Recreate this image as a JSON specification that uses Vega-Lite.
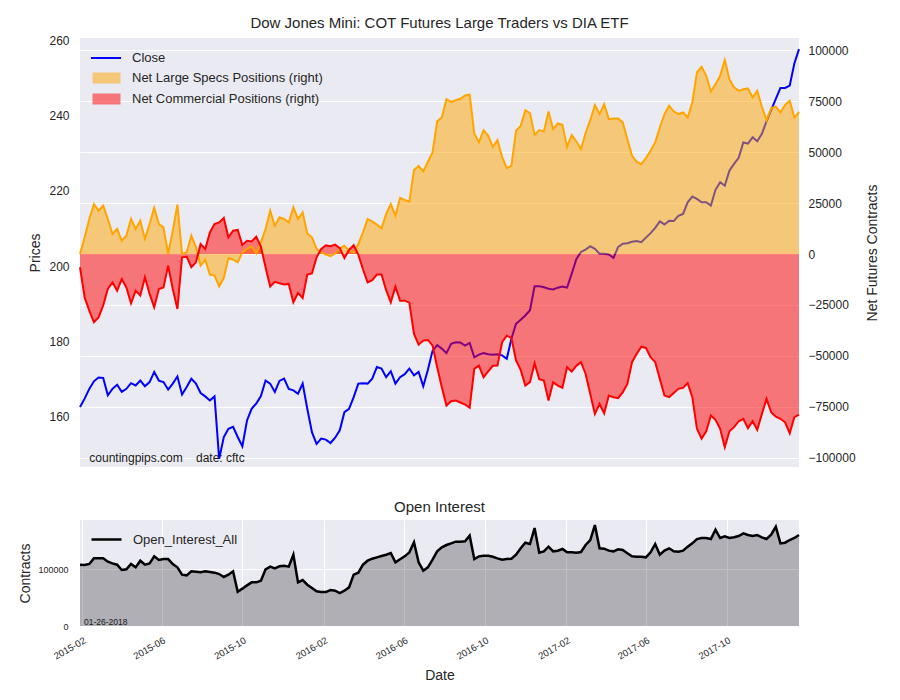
{
"$schema": "https://vega.github.io/schema/vega-lite/v6.json",
"background": "white",
"padding": {"left": 18, "top": 16, "right": 5, "bottom": 5},
"datasets": {"cot": [
{"d":"2015-01-29","c":162.6,"s":0,"m":-6500,"o":107600},
{"d":"2015-02-05","c":164.8,"s":8200,"m":-21300,"o":107000},
{"d":"2015-02-12","c":167.4,"s":17200,"m":-27800,"o":108800},
{"d":"2015-02-19","c":169.4,"s":24500,"m":-33500,"o":118700},
{"d":"2015-02-26","c":170.4,"s":21300,"m":-31100,"o":118700},
{"d":"2015-03-05","c":170.3,"s":23700,"m":-25300,"o":118700},
{"d":"2015-03-12","c":165.7,"s":17200,"m":-17200,"o":112900},
{"d":"2015-03-19","c":167.4,"s":9800,"m":-13900,"o":109900},
{"d":"2015-03-26","c":168.5,"s":12300,"m":-18000,"o":107600},
{"d":"2015-04-02","c":166.6,"s":6500,"m":-12300,"o":98200},
{"d":"2015-04-09","c":167.4,"s":9000,"m":-16400,"o":99400},
{"d":"2015-04-16","c":168.9,"s":17200,"m":-24200,"o":108800},
{"d":"2015-04-23","c":168.3,"s":12300,"m":-18000,"o":102900},
{"d":"2015-04-30","c":169.6,"s":16400,"m":-20400,"o":114600},
{"d":"2015-05-07","c":168.1,"s":7400,"m":-11400,"o":107600},
{"d":"2015-05-14","c":169.2,"s":14700,"m":-19600,"o":109900},
{"d":"2015-05-21","c":171.9,"s":22600,"m":-26200,"o":122200},
{"d":"2015-05-28","c":169.6,"s":14700,"m":-17200,"o":115800},
{"d":"2015-06-04","c":169.2,"s":13100,"m":-16400,"o":117500},
{"d":"2015-06-11","c":167.2,"s":0,"m":-5700,"o":117500},
{"d":"2015-06-18","c":168.8,"s":11400,"m":-17200,"o":108800},
{"d":"2015-06-25","c":170.7,"s":24200,"m":-27000,"o":102900},
{"d":"2015-07-02","c":165.9,"s":0,"m":-1600,"o":90100},
{"d":"2015-07-09","c":167.9,"s":800,"m":-1300,"o":88900},
{"d":"2015-07-16","c":170.1,"s":9000,"m":-6500,"o":95900},
{"d":"2015-07-23","c":168.8,"s":3300,"m":-4100,"o":95300},
{"d":"2015-07-30","c":166.3,"s":-5700,"m":4900,"o":94200},
{"d":"2015-08-06","c":165.4,"s":-2900,"m":2500,"o":95900},
{"d":"2015-08-13","c":164.3,"s":-10100,"m":10600,"o":94700},
{"d":"2015-08-20","c":165.4,"s":-10600,"m":14700,"o":93600},
{"d":"2015-08-27","c":148.8,"s":-15900,"m":15500,"o":91200},
{"d":"2015-09-03","c":154.6,"s":-11800,"m":17700,"o":86000},
{"d":"2015-09-10","c":156.8,"s":-2000,"m":8200,"o":90100},
{"d":"2015-09-17","c":157.3,"s":-2800,"m":11400,"o":95900},
{"d":"2015-09-24","c":154.6,"s":-4100,"m":11800,"o":60200},
{"d":"2015-10-01","c":152.1,"s":800,"m":4400,"o":65500},
{"d":"2015-10-08","c":159.0,"s":2500,"m":6500,"o":71300},
{"d":"2015-10-15","c":162.1,"s":3800,"m":6200,"o":76600},
{"d":"2015-10-22","c":163.5,"s":300,"m":8500,"o":76600},
{"d":"2015-10-29","c":165.5,"s":5700,"m":3600,"o":79500},
{"d":"2015-11-05","c":169.6,"s":12300,"m":-6500,"o":99400},
{"d":"2015-11-12","c":168.8,"s":21300,"m":-16000,"o":104100},
{"d":"2015-11-19","c":166.6,"s":13900,"m":-13700,"o":101200},
{"d":"2015-11-26","c":169.5,"s":18000,"m":-14400,"o":104700},
{"d":"2015-12-03","c":170.1,"s":17200,"m":-15000,"o":105800},
{"d":"2015-12-10","c":167.4,"s":15500,"m":-14700,"o":104100},
{"d":"2015-12-17","c":167.0,"s":22900,"m":-23700,"o":125100},
{"d":"2015-12-24","c":166.1,"s":17200,"m":-19100,"o":76600},
{"d":"2015-12-31","c":168.8,"s":20400,"m":-21600,"o":80700},
{"d":"2016-01-07","c":162.1,"s":10100,"m":-10100,"o":72500},
{"d":"2016-01-14","c":155.9,"s":8200,"m":-9500,"o":66700},
{"d":"2016-01-21","c":152.8,"s":2500,"m":-1600,"o":60800},
{"d":"2016-01-28","c":154.2,"s":800,"m":2500,"o":59600},
{"d":"2016-02-04","c":153.9,"s":-300,"m":4300,"o":59600},
{"d":"2016-02-11","c":153.0,"s":-1000,"m":3800,"o":63200},
{"d":"2016-02-18","c":154.4,"s":300,"m":4600,"o":62000},
{"d":"2016-02-25","c":156.4,"s":2800,"m":2900,"o":57900},
{"d":"2016-03-03","c":161.2,"s":4100,"m":-2000,"o":62000},
{"d":"2016-03-10","c":162.1,"s":1600,"m":2000,"o":67800},
{"d":"2016-03-17","c":165.2,"s":800,"m":4300,"o":90100},
{"d":"2016-03-24","c":168.8,"s":4900,"m":-300,"o":93600},
{"d":"2016-03-31","c":168.9,"s":10600,"m":-7500,"o":107600},
{"d":"2016-04-07","c":168.8,"s":17200,"m":-13900,"o":114600},
{"d":"2016-04-14","c":170.1,"s":16000,"m":-12800,"o":118100},
{"d":"2016-04-21","c":173.2,"s":14400,"m":-10100,"o":120500},
{"d":"2016-04-28","c":172.8,"s":12600,"m":-10100,"o":122800},
{"d":"2016-05-05","c":170.5,"s":19600,"m":-17700,"o":125100},
{"d":"2016-05-12","c":172.1,"s":24500,"m":-23700,"o":128100},
{"d":"2016-05-19","c":168.8,"s":18800,"m":-16000,"o":111700},
{"d":"2016-05-26","c":170.5,"s":27500,"m":-22900,"o":117000},
{"d":"2016-06-02","c":171.3,"s":26500,"m":-22900,"o":122200},
{"d":"2016-06-09","c":172.8,"s":25700,"m":-23900,"o":129200},
{"d":"2016-06-16","c":171.0,"s":41200,"m":-39200,"o":146800},
{"d":"2016-06-23","c":171.9,"s":43200,"m":-44500,"o":111700},
{"d":"2016-06-30","c":168.1,"s":40500,"m":-42500,"o":97100},
{"d":"2016-07-07","c":172.5,"s":45300,"m":-42200,"o":102900},
{"d":"2016-07-14","c":177.5,"s":49900,"m":-44900,"o":116400},
{"d":"2016-07-21","c":179.0,"s":65100,"m":-55600,"o":131000},
{"d":"2016-07-28","c":178.1,"s":67000,"m":-65400,"o":138000},
{"d":"2016-08-04","c":176.9,"s":76000,"m":-74400,"o":142100},
{"d":"2016-08-11","c":179.4,"s":74700,"m":-72300,"o":145000},
{"d":"2016-08-18","c":179.8,"s":75500,"m":-71900,"o":148000},
{"d":"2016-08-25","c":179.7,"s":76200,"m":-72900,"o":148000},
{"d":"2016-09-01","c":178.9,"s":77800,"m":-73900,"o":148500},
{"d":"2016-09-08","c":179.6,"s":78200,"m":-75500,"o":158500},
{"d":"2016-09-15","c":175.8,"s":59200,"m":-56400,"o":117500},
{"d":"2016-09-22","c":176.5,"s":54800,"m":-54800,"o":122200},
{"d":"2016-09-29","c":176.9,"s":60800,"m":-60500,"o":123400},
{"d":"2016-10-06","c":176.6,"s":58000,"m":-57600,"o":123400},
{"d":"2016-10-13","c":176.5,"s":52600,"m":-54900,"o":121600},
{"d":"2016-10-20","c":176.6,"s":55900,"m":-54800,"o":118700},
{"d":"2016-10-27","c":176.3,"s":47700,"m":-43300,"o":116400},
{"d":"2016-11-03","c":175.4,"s":42200,"m":-40100,"o":117500},
{"d":"2016-11-10","c":180.7,"s":43300,"m":-41200,"o":118100},
{"d":"2016-11-17","c":184.7,"s":60500,"m":-52300,"o":125100},
{"d":"2016-11-24","c":185.8,"s":62900,"m":-56900,"o":136300},
{"d":"2016-12-01","c":186.9,"s":70600,"m":-64600,"o":146200},
{"d":"2016-12-08","c":188.3,"s":69200,"m":-62900,"o":143900},
{"d":"2016-12-15","c":194.7,"s":58500,"m":-53600,"o":171900},
{"d":"2016-12-22","c":194.7,"s":60800,"m":-61500,"o":128700},
{"d":"2016-12-29","c":194.4,"s":60200,"m":-62100,"o":131000},
{"d":"2017-01-05","c":194.0,"s":70000,"m":-71900,"o":139200},
{"d":"2017-01-12","c":193.8,"s":61300,"m":-62900,"o":131000},
{"d":"2017-01-19","c":194.3,"s":64100,"m":-64600,"o":132200},
{"d":"2017-01-26","c":194.6,"s":63400,"m":-65700,"o":135100},
{"d":"2017-02-02","c":194.3,"s":52600,"m":-55600,"o":129200},
{"d":"2017-02-09","c":198.0,"s":58400,"m":-57700,"o":129200},
{"d":"2017-02-16","c":201.9,"s":55300,"m":-54900,"o":128700},
{"d":"2017-02-23","c":203.8,"s":51500,"m":-53100,"o":129800},
{"d":"2017-03-02","c":204.4,"s":59400,"m":-58900,"o":142100},
{"d":"2017-03-09","c":205.3,"s":65700,"m":-68700,"o":150900},
{"d":"2017-03-16","c":204.6,"s":73100,"m":-78500,"o":177200},
{"d":"2017-03-23","c":203.3,"s":68700,"m":-73600,"o":136300},
{"d":"2017-03-30","c":203.3,"s":73600,"m":-78200,"o":135700},
{"d":"2017-04-06","c":203.1,"s":66200,"m":-69500,"o":132200},
{"d":"2017-04-13","c":202.2,"s":66500,"m":-70300,"o":131000},
{"d":"2017-04-20","c":205.1,"s":66500,"m":-70800,"o":134500},
{"d":"2017-04-27","c":206.0,"s":64600,"m":-67900,"o":133300},
{"d":"2017-05-04","c":206.1,"s":56400,"m":-63800,"o":127500},
{"d":"2017-05-11","c":206.5,"s":48200,"m":-53100,"o":122200},
{"d":"2017-05-18","c":206.7,"s":45300,"m":-49100,"o":121600},
{"d":"2017-05-25","c":206.4,"s":44100,"m":-45500,"o":121600},
{"d":"2017-06-01","c":207.6,"s":47100,"m":-46100,"o":120500},
{"d":"2017-06-08","c":208.8,"s":50700,"m":-50700,"o":129200},
{"d":"2017-06-15","c":210.2,"s":54800,"m":-53100,"o":143900},
{"d":"2017-06-22","c":211.9,"s":62100,"m":-61300,"o":125100},
{"d":"2017-06-29","c":211.1,"s":68700,"m":-69500,"o":132200},
{"d":"2017-07-06","c":212.1,"s":72800,"m":-70300,"o":136300},
{"d":"2017-07-13","c":212.0,"s":70000,"m":-68200,"o":131000},
{"d":"2017-07-20","c":213.4,"s":68700,"m":-66200,"o":130400},
{"d":"2017-07-27","c":213.9,"s":69500,"m":-65700,"o":132200},
{"d":"2017-08-03","c":217.0,"s":67000,"m":-63400,"o":139200},
{"d":"2017-08-10","c":218.5,"s":74400,"m":-70300,"o":145000},
{"d":"2017-08-17","c":217.9,"s":89100,"m":-85800,"o":152600},
{"d":"2017-08-24","c":217.0,"s":91900,"m":-90700,"o":154400},
{"d":"2017-08-31","c":217.0,"s":87500,"m":-87000,"o":154400},
{"d":"2017-09-07","c":216.1,"s":79800,"m":-79300,"o":152600},
{"d":"2017-09-14","c":220.3,"s":83400,"m":-81400,"o":169000},
{"d":"2017-09-21","c":222.3,"s":87500,"m":-85800,"o":154400},
{"d":"2017-09-28","c":221.4,"s":95200,"m":-94800,"o":157300},
{"d":"2017-10-05","c":225.4,"s":85800,"m":-87000,"o":154400},
{"d":"2017-10-12","c":227.2,"s":81800,"m":-85000,"o":155600},
{"d":"2017-10-19","c":228.8,"s":80100,"m":-82100,"o":157900},
{"d":"2017-10-26","c":232.9,"s":80900,"m":-80900,"o":162600},
{"d":"2017-11-02","c":232.6,"s":81300,"m":-85500,"o":159600},
{"d":"2017-11-09","c":234.3,"s":76800,"m":-82100,"o":157900},
{"d":"2017-11-16","c":233.2,"s":80100,"m":-86300,"o":159600},
{"d":"2017-11-23","c":235.2,"s":72300,"m":-78500,"o":155600},
{"d":"2017-11-30","c":238.5,"s":65700,"m":-71100,"o":152600},
{"d":"2017-12-07","c":241.5,"s":71600,"m":-77700,"o":160200},
{"d":"2017-12-14","c":244.5,"s":72300,"m":-79800,"o":174300},
{"d":"2017-12-21","c":247.4,"s":69500,"m":-80900,"o":145000},
{"d":"2017-12-28","c":247.4,"s":73200,"m":-82600,"o":146200},
{"d":"2018-01-04","c":248.0,"s":75200,"m":-88000,"o":150900},
{"d":"2018-01-11","c":253.9,"s":67000,"m":-80100,"o":154400},
{"d":"2018-01-18","c":257.7,"s":69800,"m":-78800,"o":159600}
]},
"data": {"name": "cot"},
"spacing": 33,
"resolve": {"scale": {"stroke": "independent", "fill": "independent", "x": "independent", "y": "independent"}, "legend": {"stroke": "independent", "fill": "independent"}},
"vconcat": [
{
"width": 719, "height": 429,
"title": {"text": "Dow Jones Mini: COT Futures Large Traders vs DIA ETF", "fontSize": 15, "offset": 3, "anchor": "middle", "frame": "group"},
"layer": [
{
"layer": [
{"mark": {"type": "line", "strokeWidth": 2},
 "encoding": {
  "x": {"field": "d", "type": "temporal", "scale": {"type": "utc", "domain": [{"year": 2015, "month": 1, "date": 29, "utc": true}, {"year": 2018, "month": 1, "date": 18, "utc": true}]}, "axis": null},
  "y": {"field": "c", "type": "quantitative", "scale": {"domain": [146.63, 260.66], "nice": false, "zero": false},
        "axis": {"orient": "left", "values": [160, 180, 200, 220, 240, 260], "grid": false, "labelFontSize": 12, "labelPadding": 11, "title": "Prices", "titleFontSize": 14, "titlePadding": 6}},
  "stroke": {"datum": "Close", "type": "nominal",
    "scale": {"domain": ["Close"], "range": ["#0000ff"]},
    "legend": {"orient": "none", "legendX": 10, "legendY": 4, "title": null, "symbolType": "stroke", "symbolSize": 900, "symbolStrokeWidth": 2, "labelOffset": 10, "labelFontSize": 13, "labelLimit": 400, "padding": 0, "labelColor": "#262626"}}
 }},
{"data": {"values": [{"label": "countingpips.com\u00a0\u00a0\u00a0\u00a0date: cftc"}]},
 "mark": {"type": "text", "align": "left", "baseline": "alphabetic", "fontSize": 12, "color": "#1a1a1a"},
 "encoding": {
  "x": {"datum": {"year": 2015, "month": 2, "date": 12, "utc": true}, "type": "temporal", "axis": null},
  "y": {"datum": 148.0, "type": "quantitative",
        "axis": {"orient": "left", "values": [160, 180, 200, 220, 240, 260], "grid": false, "labelFontSize": 12, "labelPadding": 11, "title": "Prices", "titleFontSize": 14, "titlePadding": 6}},
  "text": {"field": "label"}
 }}
]
},
{
"layer": [
{"mark": {"type": "area", "opacity": 0.5},
 "encoding": {
  "x": {"field": "d", "type": "temporal", "axis": null},
  "y": {"field": "s", "type": "quantitative", "scale": {"domain": [-104560, 106040], "nice": false, "zero": false},
        "axis": {"orient": "right", "values": [-100000, -75000, -50000, -25000, 0, 25000, 50000, 75000, 100000], "format": "d", "grid": true, "labelFontSize": 12, "labelPadding": 9, "title": "Net Futures Contracts", "titleFontSize": 14, "titleAngle": 270, "titleBaseline": "top", "titlePadding": 10}},
  "y2": {"datum": 0},
  "fill": {"datum": "Net Large Specs Positions (right)", "type": "nominal",
    "scale": {"domain": ["Net Large Specs Positions (right)", "Net Commercial Positions (right)"], "range": ["#ffa500", "#ff0000"]},
    "legend": {"orient": "none", "legendX": 20, "legendY": 33.5, "title": null, "symbolType": "M-2.8,-1.1H2.8V1.1H-2.8Z", "symbolSize": 100, "symbolStrokeWidth": 0, "labelOffset": 19, "rowPadding": 7, "labelFontSize": 13, "labelLimit": 400, "padding": 0, "labelColor": "#262626"}}
 }},
{"mark": {"type": "area", "opacity": 0.5},
 "encoding": {
  "x": {"field": "d", "type": "temporal", "axis": null},
  "y": {"field": "m", "type": "quantitative",
        "axis": {"orient": "right", "values": [-100000, -75000, -50000, -25000, 0, 25000, 50000, 75000, 100000], "format": "d", "grid": true, "labelFontSize": 12, "labelPadding": 9, "title": "Net Futures Contracts", "titleFontSize": 14, "titleAngle": 270, "titleBaseline": "top", "titlePadding": 10}},
  "y2": {"datum": 0},
  "fill": {"datum": "Net Commercial Positions (right)", "type": "nominal"}
 }},
{"mark": {"type": "line", "strokeWidth": 2, "color": "#ffa500"},
 "encoding": {
  "x": {"field": "d", "type": "temporal", "axis": null},
  "y": {"field": "s", "type": "quantitative",
        "axis": {"orient": "right", "values": [-100000, -75000, -50000, -25000, 0, 25000, 50000, 75000, 100000], "format": "d", "grid": true, "labelFontSize": 12, "labelPadding": 9, "title": "Net Futures Contracts", "titleFontSize": 14, "titleAngle": 270, "titleBaseline": "top", "titlePadding": 10}}
 }},
{"mark": {"type": "line", "strokeWidth": 2, "color": "#ff0000"},
 "encoding": {
  "x": {"field": "d", "type": "temporal", "axis": null},
  "y": {"field": "m", "type": "quantitative",
        "axis": {"orient": "right", "values": [-100000, -75000, -50000, -25000, 0, 25000, 50000, 75000, 100000], "format": "d", "grid": true, "labelFontSize": 12, "labelPadding": 9, "title": "Net Futures Contracts", "titleFontSize": 14, "titleAngle": 270, "titleBaseline": "top", "titlePadding": 10}}
 }}
]
}
],
"resolve": {"scale": {"y": "independent", "stroke": "independent", "fill": "independent"}, "legend": {"stroke": "independent", "fill": "independent"}}
},
{
"width": 719, "height": 106,
"title": {"text": "Open Interest", "fontSize": 15, "offset": 5, "anchor": "middle", "frame": "group"},
"layer": [
{"mark": {"type": "area", "color": "black", "opacity": 0.25},
 "encoding": {
  "x": {"field": "d", "type": "temporal", "scale": {"type": "utc", "domain": [{"year": 2015, "month": 1, "date": 29, "utc": true}, {"year": 2018, "month": 1, "date": 18, "utc": true}]},
        "axis": {"values": [{"year": 2015, "month": 2, "date": 1, "utc": true}, {"year": 2015, "month": 6, "date": 1, "utc": true}, {"year": 2015, "month": 10, "date": 1, "utc": true}, {"year": 2016, "month": 2, "date": 1, "utc": true}, {"year": 2016, "month": 6, "date": 1, "utc": true}, {"year": 2016, "month": 10, "date": 1, "utc": true}, {"year": 2017, "month": 2, "date": 1, "utc": true}, {"year": 2017, "month": 6, "date": 1, "utc": true}, {"year": 2017, "month": 10, "date": 1, "utc": true}],
                 "format": "%Y-%m", "labelAngle": -30, "labelAlign": "right", "labelBaseline": "top", "labelFontSize": 9.5, "labelPadding": 9, "labelFlush": false, "labelOverlap": false, "grid": true, "title": "Date", "titleFontSize": 14, "titlePadding": 8}},
  "y": {"field": "o", "type": "quantitative", "scale": {"domain": [0, 186000], "nice": false},
        "axis": {"values": [0, 100000], "format": "d", "grid": true, "labelFontSize": 9, "labelPadding": 12, "title": "Contracts", "titleFontSize": 14, "titlePadding": 5}}
 }},
{"mark": {"type": "line", "strokeWidth": 2.5},
 "encoding": {
  "x": {"field": "d", "type": "temporal",
        "axis": {"values": [{"year": 2015, "month": 2, "date": 1, "utc": true}, {"year": 2015, "month": 6, "date": 1, "utc": true}, {"year": 2015, "month": 10, "date": 1, "utc": true}, {"year": 2016, "month": 2, "date": 1, "utc": true}, {"year": 2016, "month": 6, "date": 1, "utc": true}, {"year": 2016, "month": 10, "date": 1, "utc": true}, {"year": 2017, "month": 2, "date": 1, "utc": true}, {"year": 2017, "month": 6, "date": 1, "utc": true}, {"year": 2017, "month": 10, "date": 1, "utc": true}],
                 "format": "%Y-%m", "labelAngle": -30, "labelAlign": "right", "labelBaseline": "top", "labelFontSize": 9.5, "labelPadding": 9, "labelFlush": false, "labelOverlap": false, "grid": true, "title": "Date", "titleFontSize": 14, "titlePadding": 8}},
  "y": {"field": "o", "type": "quantitative",
        "axis": {"values": [0, 100000], "format": "d", "grid": true, "labelFontSize": 9, "labelPadding": 12, "title": "Contracts", "titleFontSize": 14, "titlePadding": 5}},
  "stroke": {"datum": "Open_Interest_All", "type": "nominal", "scale": {"domain": ["Open_Interest_All"], "range": ["#000000"]},
    "legend": {"orient": "none", "legendX": 10, "legendY": 3, "title": null, "symbolType": "stroke", "symbolSize": 900, "symbolStrokeWidth": 2.5, "labelOffset": 10, "labelFontSize": 13, "labelLimit": 400, "padding": 0, "labelColor": "#262626"}}
 }},
{"data": {"values": [{"label": "01-26-2018"}]},
 "mark": {"type": "text", "align": "left", "baseline": "alphabetic", "fontSize": 8.5, "color": "#1a1a1a"},
 "encoding": {
  "x": {"datum": {"year": 2015, "month": 2, "date": 4, "utc": true}, "type": "temporal",
        "axis": {"values": [{"year": 2015, "month": 2, "date": 1, "utc": true}, {"year": 2015, "month": 6, "date": 1, "utc": true}, {"year": 2015, "month": 10, "date": 1, "utc": true}, {"year": 2016, "month": 2, "date": 1, "utc": true}, {"year": 2016, "month": 6, "date": 1, "utc": true}, {"year": 2016, "month": 10, "date": 1, "utc": true}, {"year": 2017, "month": 2, "date": 1, "utc": true}, {"year": 2017, "month": 6, "date": 1, "utc": true}, {"year": 2017, "month": 10, "date": 1, "utc": true}],
                 "format": "%Y-%m", "labelAngle": -30, "labelAlign": "right", "labelBaseline": "top", "labelFontSize": 9.5, "labelPadding": 9, "labelFlush": false, "labelOverlap": false, "grid": true, "title": "Date", "titleFontSize": 14, "titlePadding": 8}},
  "y": {"datum": 1000, "type": "quantitative",
        "axis": {"values": [0, 100000], "format": "d", "grid": true, "labelFontSize": 9, "labelPadding": 12, "title": "Contracts", "titleFontSize": 14, "titlePadding": 5}},
  "text": {"field": "label"}
 }}
]
}
],
"config": {
  "font": "Liberation Sans",
  "view": {"fill": "#EAEAF2", "stroke": null},
  "axis": {"domain": false, "ticks": false, "gridColor": "#ffffff", "gridWidth": 1, "gridOpacity": 1, "labelColor": "#262626", "titleColor": "#262626", "titleFontWeight": "normal", "labelFont": "Liberation Sans", "titleFont": "Liberation Sans"},
  "title": {"color": "#262626", "fontWeight": "normal", "font": "Liberation Sans"},
  "legend": {"labelFont": "Liberation Sans"}
}
}
